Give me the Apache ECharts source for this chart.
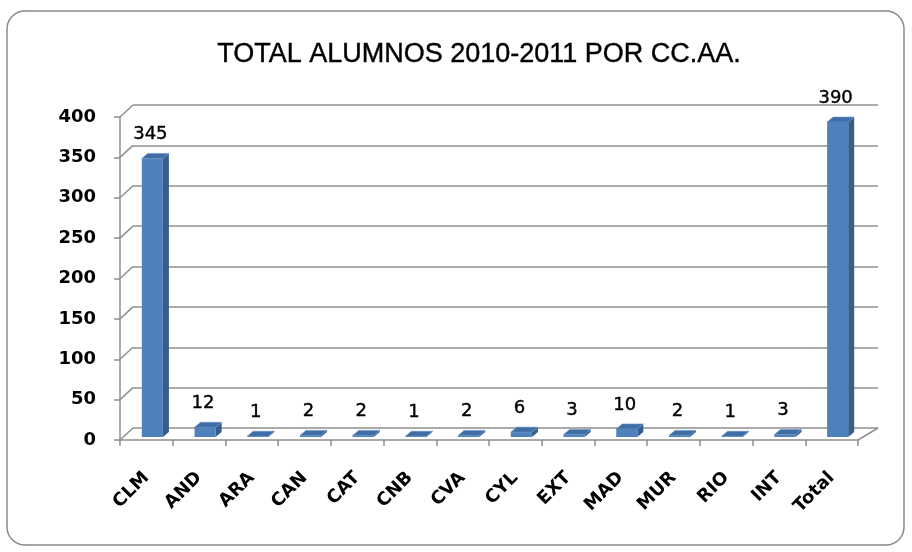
<!DOCTYPE html>
<html><head><meta charset="utf-8">
<script src="https://cdn.jsdelivr.net/npm/echarts@6/dist/echarts.min.js"></script>
<style>html,body{margin:0;padding:0;background:#fff}#c{width:912px;height:552px}</style>
</head><body><div id="c"></div>
<script>
const categories = ['CLM','AND','ARA','CAN','CAT','CNB','CVA','CYL','EXT','MAD','MUR','RIO','INT','Total'];
const values = [345,12,1,2,2,1,2,6,3,10,2,1,3,390];
const yTicks = [0,50,100,150,200,250,300,350,400];
const titleText = 'TOTAL ALUMNOS 2010-2011 POR CC.AA.';

const DX = 13, DY = 12;       // side wall depth (front -> back)
const BDX = 6, BDY = 5;       // bar depth
const chart = echarts.init(document.getElementById('c'), null, {renderer:'canvas'});
const gridColor = '#8f8f8f';

chart.setOption({
  animation:false,
  backgroundColor:'#fff',
  title:{text:titleText,left:474,top:36,textAlign:'center',
    textStyle:{fontFamily:'Liberation Sans',fontWeight:'normal',fontSize:27,color:'#000',
      textBorderColor:'#000',textBorderWidth:0.4}},
  graphic:[{type:'rect',shape:{x:7,y:11,width:897,height:534,r:18},
    style:{fill:'none',stroke:'#8a8a8a',lineWidth:1.5},z:-10}],
  grid:[
    {left:120,right:54,top:117,bottom:112},   // front
    {left:133,right:34,top:105,bottom:124},   // back wall
    {left:126,right:48,top:114,bottom:115}    // bars plane
  ],
  xAxis:[
    {type:'category',gridIndex:0,data:categories,boundaryGap:true,
     axisLine:{lineStyle:{color:gridColor,width:1.5}},
     axisTick:{show:true,length:6,lineStyle:{color:gridColor,width:1.5}},
     axisLabel:{rotate:45,margin:35,color:'#000',fontFamily:'DejaVu Sans',fontWeight:'bold',fontSize:18,interval:0}},
    {type:'category',gridIndex:1,data:categories,show:false},
    {type:'category',gridIndex:2,data:categories,show:false}
  ],
  yAxis:[
    {type:'value',gridIndex:0,min:0,max:400,interval:50,
     axisLine:{show:true,lineStyle:{color:gridColor,width:1.5}},
     axisTick:{show:true,length:6,lineStyle:{color:gridColor,width:1.5}},
     splitLine:{show:false},
     axisLabel:{margin:24,color:'#000',fontFamily:'DejaVu Sans',fontWeight:'bold',fontSize:18}},
    {type:'value',gridIndex:1,min:0,max:400,interval:50,
     axisLine:{show:false},axisTick:{show:false},axisLabel:{show:false},
     splitLine:{show:true,lineStyle:{color:gridColor,width:1.5}}},
    {type:'value',gridIndex:2,min:0,max:400,interval:50,show:false}
  ],
  series:[
    { // side wall connectors (front tick -> back gridline)
      type:'custom',xAxisIndex:0,yAxisIndex:0,
      data:yTicks.map(v=>[0,v]),
      renderItem:function(params,api){
        const p = api.coord([0,api.value(1)]);
        const x0 = params.coordSys.x;
        return {type:'line',shape:{x1:x0,y1:p[1],x2:x0+DX,y2:p[1]-DY},
          style:{stroke:gridColor,lineWidth:1.5}};
      }
    },
    { // floor right edge
      type:'custom',xAxisIndex:0,yAxisIndex:0,
      data:[[0,0]],
      renderItem:function(params,api){
        const p = api.coord([0,0]);
        const x1 = params.coordSys.x + params.coordSys.width;
        return {type:'line',shape:{x1:x1,y1:p[1],x2:x1+DX+7,y2:p[1]-DY},
          style:{stroke:gridColor,lineWidth:1.5}};
      }
    },
    { // 3D bars
      type:'custom',xAxisIndex:2,yAxisIndex:2,
      data:values.map((v,i)=>[i,v]),
      z:5,
      renderItem:function(params,api){
        const i = api.value(0), v = api.value(1);
        const p0 = api.coord([i,0]);
        const p1 = api.coord([i,v]);
        const w = api.size([1,0])[0]*0.4;
        const x = p0[0]-w/2, yt = p1[1], yb = p0[1];
        return {type:'group',children:[
          {type:'polygon',shape:{points:[[x+w,yt],[x+w+BDX,yt-BDY],[x+w+BDX,yb-BDY],[x+w,yb]]},
            style:{fill:'#385d8a'}},
          {type:'polygon',shape:{points:[[x,yt],[x+BDX,yt-BDY],[x+w+BDX,yt-BDY],[x+w,yt]]},
            style:{fill:'#3f6ea6',stroke:'#6a94c8',lineWidth:0.6}},
          {type:'rect',shape:{x:x,y:yt,width:w,height:Math.max(yb-yt,0.5)},
            style:{fill:'#4f81bd'}},
          {type:'text',x:p0[0]-2,y:yt-24,
            style:{text:String(v),textAlign:'center',textVerticalAlign:'middle',
              fontFamily:'DejaVu Sans',fontSize:18,fill:'#000',stroke:'#000',lineWidth:0.4}}
        ]};
      }
    }
  ]
});
</script></body></html>
